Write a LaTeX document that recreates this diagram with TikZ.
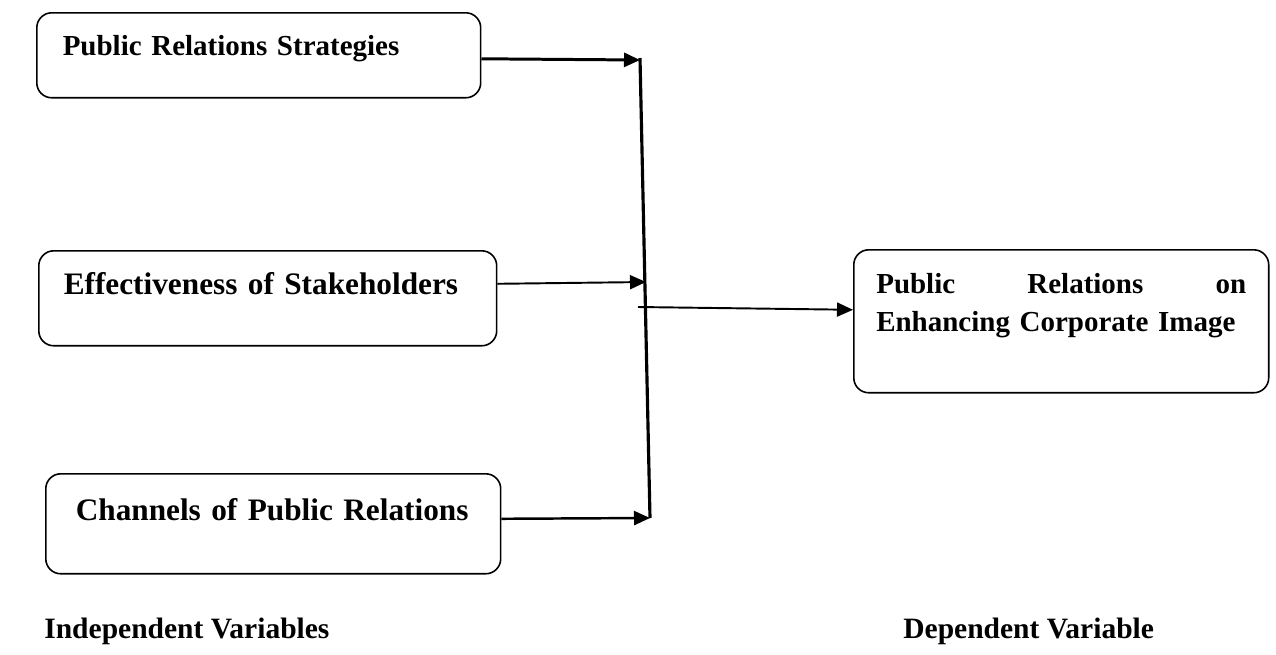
\documentclass[tikz,border=0pt]{standalone}
\usepackage{fontspec}
\setmainfont{Liberation Serif}
\usetikzlibrary{arrows.meta,positioning}

\begin{document}
\begin{tikzpicture}[x=0.02cm,y=-0.02cm,>={Triangle[length=0.32cm,width=0.28cm]},
   box/.style={draw,rounded corners=0.3cm,line width=0.9pt,anchor=north west,align=left,
     font=\fontsize{16.5}{21.6}\selectfont\bfseries,text height=0.42cm},
   big/.style={font=\fontsize{17.8}{21.6}\selectfont\bfseries},
   lbl/.style={font=\fontsize{16.8}{21.6}\selectfont\bfseries,anchor=base west,inner sep=0pt}]
   \useasboundingbox (0,0) rectangle (1276,654);
   \node[box] (strat) at (36,12) [inner xsep=0.52cm,text width=7.84cm,inner ysep=0.44cm,text depth=0.40cm] {Public Relations Strategies};
   \node[box,big] (effect) at (38,250) [inner xsep=0.5cm,text width=8.16cm,inner ysep=0.46cm,text depth=0.56cm] {Effectiveness of Stakeholders};
   \node[box,big] (chan) at (45,473) [inner xsep=0.6cm,text width=7.9cm,inner ysep=0.52cm,text depth=0.54cm] {Channels of Public Relations};
   \node[box] (image) at (853,249) [inner xsep=0.45cm,text width=7.4cm,inner ysep=0.46cm,text depth=1.52cm] {Public\hfill Relations\hfill on\\\mbox{Enhancing Corporate Image}};
   \node[lbl] (indep) at (44,638) {Independent Variables};
   \node[lbl] (dep) at (903,638) {Dependent Variable};
   % collecting bar
   \coordinate (bartop) at (640,58);
   \coordinate (barbot) at (650,518);
   \coordinate (in1) at (640,60);
   \coordinate (in2) at (646,282);
   \coordinate (in4) at (650,518);
   \coordinate (out) at (638,307);
   \draw[line width=1.8pt] (bartop) -- (barbot);
   \path[->]
        ([yshift=-0.07cm]strat.east) edge[line width=1.7pt] (in1)
        ([yshift=0.29cm]effect.east) edge[line width=1.1pt] (in2)
        ([yshift=0.1cm]chan.east) edge[line width=1.4pt] (in4)
        (out) edge[line width=1.1pt] ([yshift=0.23cm]image.west)
        ;
\end{tikzpicture}
\end{document}
